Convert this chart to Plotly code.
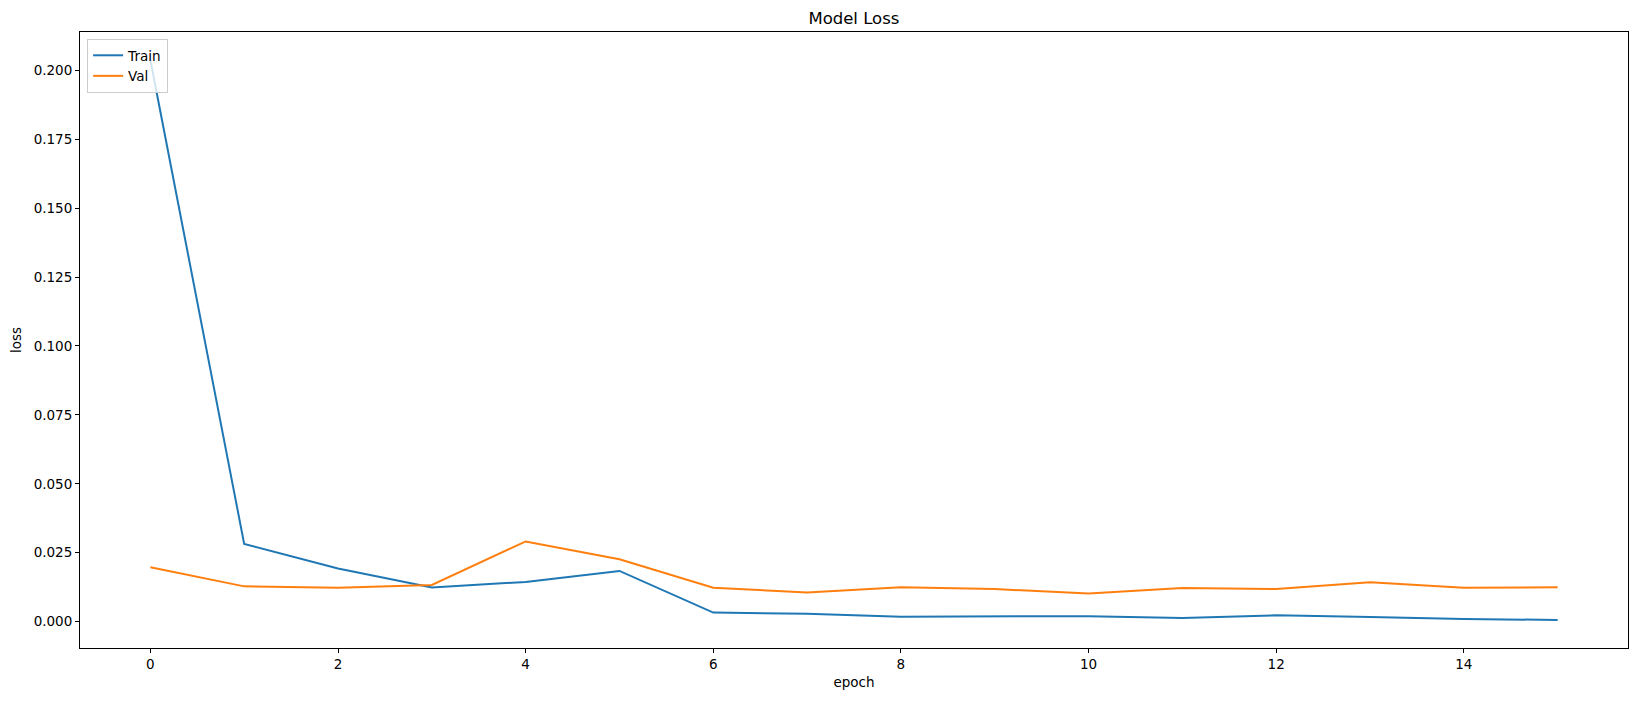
import plotly.graph_objects as go

epochs = list(range(16))
train_loss = [0.2037, 0.0282, 0.0193, 0.0124, 0.0144, 0.0184, 0.0033, 0.0029,
              0.0018, 0.0020, 0.0020, 0.0013, 0.0023, 0.0017, 0.0010, 0.0006]
val_loss = [0.0197, 0.0128, 0.0123, 0.0133, 0.0291, 0.0226, 0.0123, 0.0106,
            0.0125, 0.0118, 0.0102, 0.0122, 0.0118, 0.0143, 0.0123, 0.0125]
y_ticks = [0.000, 0.025, 0.050, 0.075, 0.100, 0.125, 0.150, 0.175, 0.200]
x_ticks = [0, 2, 4, 6, 8, 10, 12, 14]

FONT = "DejaVu Sans"

fig = go.Figure()
fig.add_trace(go.Scatter(x=epochs, y=train_loss, mode="lines", name="Train",
                         line=dict(color="#1f77b4", width=2)))
fig.add_trace(go.Scatter(x=epochs, y=val_loss, mode="lines", name="Val",
                         line=dict(color="#ff7f0e", width=2)))

ymin = min(min(train_loss), min(val_loss))
ymax = max(max(train_loss), max(val_loss))
yr = ymax - ymin
xr = epochs[-1] - epochs[0]

axis_common = dict(showline=True, linecolor="black", linewidth=1, mirror=True,
                   ticks="outside", ticklen=4, tickwidth=1, tickcolor="black",
                   showgrid=False, zeroline=False,
                   tickfont=dict(family=FONT, size=13.5, color="black"))

fig.update_layout(
    width=1638, height=701,
    margin=dict(l=80, r=10, t=32, b=53),
    paper_bgcolor="white", plot_bgcolor="white",
    font=dict(family=FONT, size=13.5, color="black"),
    title=dict(text="Model Loss", x=0.5213, xanchor="center", y=1 - 18 / 701,
               yanchor="middle", font=dict(family=FONT, size=16.5, color="black")),
    xaxis=dict(range=[epochs[0] - 0.05 * xr, epochs[-1] + 0.05 * xr],
               tickvals=x_ticks,
               title=dict(text="epoch", standoff=6,
                          font=dict(family=FONT, size=13.5, color="black")),
               **axis_common),
    yaxis=dict(range=[ymin - 0.05 * yr, ymax + 0.05 * yr],
               tickvals=y_ticks, tickformat=".3f",
               title=dict(text="loss", standoff=8,
                          font=dict(family=FONT, size=13.5, color="black")),
               **axis_common),
    legend=dict(x=0.0046, y=0.9886, xanchor="left", yanchor="top",
                bgcolor="rgba(255,255,255,0.8)", bordercolor="#cccccc",
                borderwidth=1, font=dict(family=FONT, size=13.5, color="black"),
                tracegroupgap=0),
    showlegend=True,
)

fig.write_html("out.html")
